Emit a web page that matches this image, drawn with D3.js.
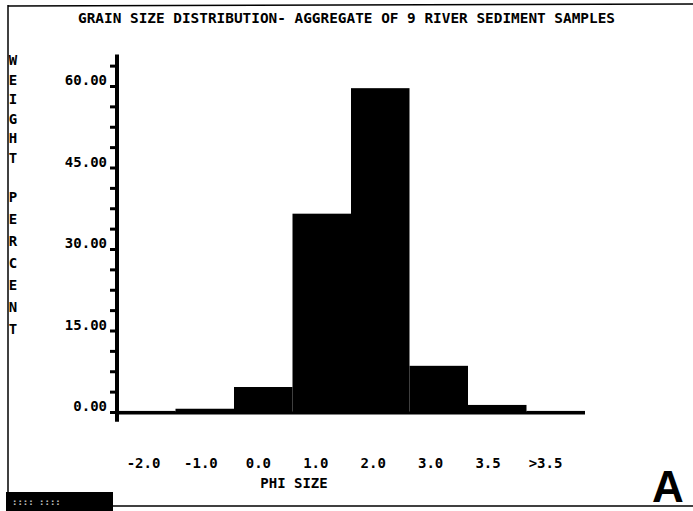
<!DOCTYPE html>
<html>
<head>
<meta charset="utf-8">
<script src="https://cdn.jsdelivr.net/npm/d3@7"></script>
<style>
  html, body { margin: 0; padding: 0; background: #fff; }
  svg { display: block; }
  text { font-family: "DejaVu Sans Mono", monospace; font-weight: bold; fill: #000; }
</style>
</head>
<body>
<svg id="chart" width="693" height="511"></svg>
<script>
const title = "GRAIN SIZE DISTRIBUTION- AGGREGATE OF 9 RIVER SEDIMENT SAMPLES";
const yTitleWords = ["WEIGHT", "PERCENT"];
const xTitle = "PHI SIZE";
const panelLetter = "A";
const categories = ["-2.0", "-1.0", "0.0", "1.0", "2.0", "3.0", "3.5", ">3.5"];
const values = [0.2, 0.6, 4.6, 36.5, 59.6, 8.5, 1.3, 0.2];
const yTickValues = d3.range(0, 63.75 + 0.001, 3.75);
const yLabelValues = [0, 15, 30, 45, 60];

const svg = d3.select("#chart");

// frame
svg.append("line").attr("x1", 8).attr("y1", 6).attr("x2", 693).attr("y2", 4)
  .attr("stroke", "#000").attr("stroke-width", 1.5);
svg.append("line").attr("x1", 8).attr("y1", 5).attr("x2", 8).attr("y2", 493)
  .attr("stroke", "#000").attr("stroke-width", 1.5);
svg.append("line").attr("x1", 113).attr("y1", 506).attr("x2", 693).attr("y2", 506)
  .attr("stroke", "#000").attr("stroke-width", 1.5);
svg.append("rect").attr("x", 6).attr("y", 492).attr("width", 107).attr("height", 19).attr("fill", "#000");
svg.append("text").attr("x", 12).attr("y", 505).attr("font-size", 9)
  .style("fill", "#fff").attr("opacity", 0.75).text(":::: ::::");

// title
svg.append("text").attr("x", 78).attr("y", 23).attr("font-size", 14)
  .attr("textLength", 537).attr("lengthAdjust", "spacingAndGlyphs").text(title);

// scales
const x = d3.scaleBand().domain(categories).range([117, 585]).padding(0);
const xl = d3.scalePoint().domain(categories).range([143, 545]);
const y = d3.scaleLinear().domain([0, 60]).range([412, 86]);

// bars
svg.append("g").selectAll("rect").data(values).join("rect")
  .attr("x", (d, i) => x(categories[i]))
  .attr("width", x.bandwidth())
  .attr("y", d => y(d))
  .attr("height", d => y(0) - y(d))
  .attr("fill", "#000");

// y axis
const yAxis = d3.axisLeft(y).tickValues(yTickValues).tickSize(7).tickPadding(3)
  .tickFormat(d => yLabelValues.includes(d) ? d.toFixed(2) : "");
const gy = svg.append("g").attr("transform", "translate(117,0)").call(yAxis);
gy.select(".domain").remove();
gy.selectAll(".tick line").attr("stroke", "#000").attr("stroke-width", 3);
gy.selectAll(".tick text").attr("font-size", 14).attr("dy", "-0.1em");
svg.append("line").attr("x1", 117).attr("x2", 117)
  .attr("y1", y(-1.8)).attr("y2", y(65.8))
  .attr("stroke", "#000").attr("stroke-width", 4);

// x axis baseline
svg.append("line").attr("x1", 117).attr("x2", 585)
  .attr("y1", y(0) + 1).attr("y2", y(0) + 1)
  .attr("stroke", "#000").attr("stroke-width", 3);

// x labels
const xAxis = d3.axisBottom(xl).tickSize(0).tickPadding(0);
const gx = svg.append("g").attr("transform", "translate(0,458)").call(xAxis);
gx.select(".domain").remove();
gx.selectAll(".tick text").attr("font-size", 14).attr("dy", "0.7em");

// x title
svg.append("text").attr("x", 294).attr("y", 488).attr("text-anchor", "middle")
  .attr("font-size", 14).text(xTitle);

// y title, stacked letters
const yLetters = [];
yTitleWords[0].split("").forEach((c, i) => yLetters.push({c, y: 65 + i * 19.5}));
yTitleWords[1].split("").forEach((c, i) => yLetters.push({c, y: 202 + i * 22}));
svg.append("g").selectAll("text").data(yLetters).join("text")
  .attr("x", 13).attr("y", d => d.y).attr("text-anchor", "middle")
  .attr("font-size", 14).text(d => d.c);

// panel letter
svg.append("text").attr("x", 652).attr("y", 502)
  .style("font-family", "'Liberation Sans', Arial, sans-serif").style("font-weight", "bold")
  .attr("font-size", 44).text(panelLetter);
</script>
</body>
</html>
